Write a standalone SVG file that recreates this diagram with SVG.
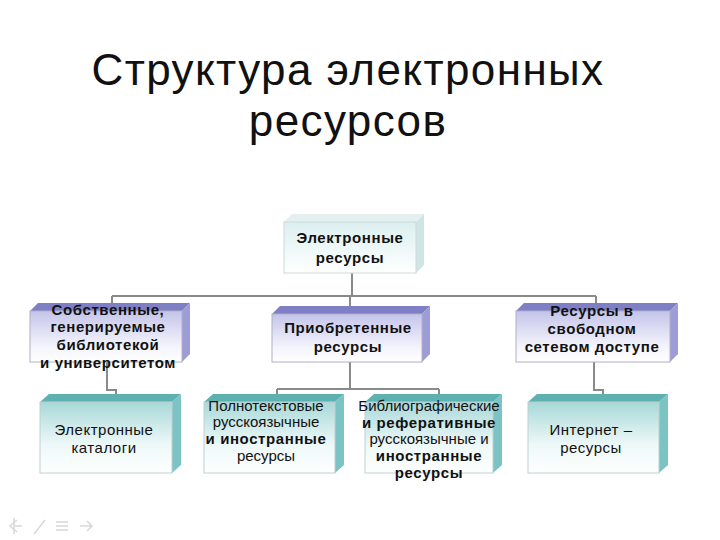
<svg xmlns="http://www.w3.org/2000/svg" width="720" height="540" viewBox="0 0 720 540">
<defs>
<linearGradient id="gTop" x1="0" y1="0" x2="0" y2="1"><stop offset="0" stop-color="#dcefef"/><stop offset="1" stop-color="#ffffff"/></linearGradient>
<linearGradient id="gMid" x1="0" y1="0" x2="0" y2="1"><stop offset="0" stop-color="#c4c4ea"/><stop offset="0.7" stop-color="#f4f4fc"/><stop offset="1" stop-color="#ffffff"/></linearGradient>
<linearGradient id="gBot" x1="0" y1="0" x2="0" y2="1"><stop offset="0" stop-color="#a8d8d8"/><stop offset="0.6" stop-color="#eef8f8"/><stop offset="1" stop-color="#ffffff"/></linearGradient>
<style>
.title{font-family:"Liberation Sans",Arial,sans-serif;font-size:44px;fill:#111;text-anchor:middle;letter-spacing:1.4px}
.t{font-family:"Liberation Sans",Arial,sans-serif;font-size:15px;fill:#111;text-anchor:middle}
.b{font-weight:bold;letter-spacing:0.6px}
.r{letter-spacing:0.5px}
.edge{fill:none;stroke:#8a8a8a;stroke-width:2}
.fT{fill:url(#gTop);stroke:#d0d8d8;stroke-width:1}
.tT{fill:#e4f0f0}
.sT{fill:#cfe4e4}
.fM{fill:url(#gMid);stroke:#b0b0c8;stroke-width:1}
.tM{fill:#7f7fc6}
.sM{fill:#9c9cd6}
.fB{fill:url(#gBot);stroke:#c0d0d0;stroke-width:1}
.tB{fill:#5db1b1}
.sB{fill:#7cc3c3}
.nav{fill:none;stroke:#d8d8d8;stroke-width:1.5}
</style>
</defs>
<rect width="720" height="540" fill="#ffffff"/>
<g id="title">
<text class="title" x="348" y="85">Структура электронных</text>
<text class="title" x="348" y="136">ресурсов</text>
</g>
<g id="connectors">
<path class="edge" d="M352 273 V296 M112 296 H596 M112 296 V303 M350 296 V306 M596 296 V303"/>
<path class="edge" d="M107 362 V390 H116 V394"/>
<path class="edge" d="M350 362 V389 M277 389 H439 M277 389 V394 M439 389 V394"/>
<path class="edge" d="M594 362 V390 H603 V394"/>
</g>
<g id="n-root">
<polygon class="tT" points="284,222 292,214 424,214 416,222"/>
<polygon class="sT" points="416,222 424,214 424,265 416,273"/>
<rect class="fT" x="284" y="222" width="132" height="51"/>
<text class="t b" x="350" y="243">Электронные</text>
<text class="t b" x="350" y="263">ресурсы</text>
</g>
<g id="n-own">
<polygon class="tM" points="30,311 38,303 190,303 182,311"/>
<polygon class="sM" points="182,311 190,303 190,354 182,362"/>
<rect class="fM" x="30" y="311" width="152" height="51"/>
<text class="t b" x="108" y="315">Собственные,</text>
<text class="t b" x="108" y="332">генерируемые</text>
<text class="t b" x="108" y="350">библиотекой</text>
<text class="t b" x="108" y="368">и университетом</text>
</g>
<g id="n-acq">
<polygon class="tM" points="272,314 280,306 430,306 422,314"/>
<polygon class="sM" points="422,314 430,306 430,354 422,362"/>
<rect class="fM" x="272" y="314" width="150" height="48"/>
<text class="t b" x="348" y="333">Приобретенные</text>
<text class="t b" x="348" y="352">ресурсы</text>
</g>
<g id="n-free">
<polygon class="tM" points="516,311 524,303 678,303 670,311"/>
<polygon class="sM" points="670,311 678,303 678,354 670,362"/>
<rect class="fM" x="516" y="311" width="154" height="51"/>
<text class="t b" x="592" y="316">Ресурсы в</text>
<text class="t b" x="592" y="334">свободном</text>
<text class="t b" x="592" y="352">сетевом доступе</text>
</g>
<g id="n-cat">
<polygon class="tB" points="40,402 49,394 181,394 172,402"/>
<polygon class="sB" points="172,402 181,394 181,465 172,473"/>
<rect class="fB" x="40" y="402" width="132" height="71"/>
<text class="t r" x="104" y="435">Электронные</text>
<text class="t r" x="104" y="453">каталоги</text>
</g>
<g id="n-full">
<polygon class="tB" points="204,402 213,394 344,394 335,402"/>
<polygon class="sB" points="335,402 344,394 344,465 335,473"/>
<rect class="fB" x="204" y="402" width="131" height="71"/>
<text class="t" x="266" y="411">Полнотекстовые</text>
<text class="t" x="266" y="427">русскоязычные</text>
<text class="t b" x="266" y="444">и иностранные</text>
<text class="t" x="266" y="461">ресурсы</text>
</g>
<g id="n-bib">
<polygon class="tB" points="365,402 374,394 502,394 493,402"/>
<polygon class="sB" points="493,402 502,394 502,465 493,473"/>
<rect class="fB" x="365" y="402" width="128" height="71"/>
<text class="t" x="429" y="411">Библиографические</text>
<text class="t b" x="429" y="428">и реферативные</text>
<text class="t" x="429" y="444">русскоязычные и</text>
<text class="t b" x="429" y="461">иностранные</text>
<text class="t b" x="429" y="478">ресурсы</text>
</g>
<g id="n-inet">
<polygon class="tB" points="528,402 537,394 668,394 659,402"/>
<polygon class="sB" points="659,402 668,394 668,465 659,473"/>
<rect class="fB" x="528" y="402" width="131" height="71"/>
<text class="t r" x="591" y="435">Интернет –</text>
<text class="t r" x="591" y="453">ресурсы</text>
</g>
<g id="nav">
<path class="nav" d="M17 520 L10 526 L17 532 M15 526 H22 M14 518 V534"/>
<path class="nav" d="M34 534 L45 520"/>
<path class="nav" d="M56 522 H68 M56 526 H68 M56 530 H68"/>
<path class="nav" d="M80 526 H92 M87 521 L92 526 L87 531"/>
</g>
</svg>
